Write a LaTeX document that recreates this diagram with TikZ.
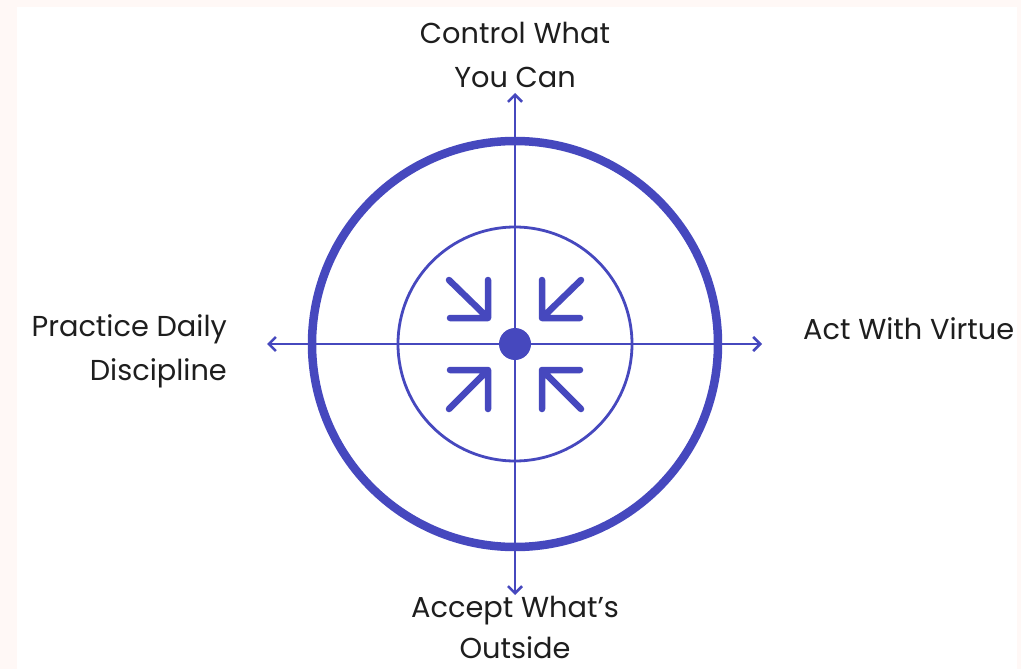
\documentclass[tikz,border=0pt]{standalone}
\usepackage{fontspec}
\setmainfont{Poppins}
\usetikzlibrary{arrows.meta}
\definecolor{ring}{RGB}{70,72,190}
\definecolor{txt}{RGB}{30,30,30}
\definecolor{frame}{RGB}{255,248,246}
\begin{document}
\begin{tikzpicture}[x=1pt,y=-1pt,
  axis/.style={draw=ring,line width=2.6pt,-{Straight Barb[length=7pt,width=14pt,line width=2.6pt]}},
  glyph/.style={draw=ring,line width=6.5pt,line cap=round,line join=round},
  lbl/.style={text=txt,font=\fontsize{28.8}{44}\selectfont,inner sep=0pt}]
\useasboundingbox (0,0) rectangle (1021,669);
\fill[frame] (0,0) rectangle (1021,669);
\fill[white] (17,7) rectangle (1017,669);
\coordinate (c) at (515,344);
\draw[ring,line width=8.5pt] (c) circle[radius=203];
\draw[ring,line width=2.8pt] (c) circle[radius=117];
\coordinate (tN) at (515,93);
\coordinate (tS) at (515,595);
\coordinate (tW) at (267,344);
\coordinate (tE) at (762,344);
\draw[axis] (c) -- (tN);
\draw[axis] (c) -- (tS);
\draw[axis] (c) -- (tW);
\draw[axis] (c) -- (tE);
\fill[ring] (c) circle[radius=16];
% inward arrows
\draw[glyph] (449,280) -- (488,318) (450,318) -- (488,318) -- (488,280);
\draw[glyph] (581,280) -- (542,318) (580,318) -- (542,318) -- (542,280);
\draw[glyph] (449,409) -- (488,370) (450,370) -- (488,370) -- (488,409);
\draw[glyph] (581,409) -- (542,370) (580,370) -- (542,370) -- (542,409);
\node[lbl,align=center,anchor=south] (n) at (515,88) {Control What\\You Can};
\node[lbl,font=\fontsize{28.8}{41}\selectfont,align=center,anchor=north] (s) at (515,596) {Accept What’s\\Outside};
\node[lbl,align=right,anchor=east] (w) at (227,351) {Practice Daily\\Discipline};
\node[lbl,anchor=west] (e) at (803,329) {Act With Virtue};
\end{tikzpicture}
\end{document}
